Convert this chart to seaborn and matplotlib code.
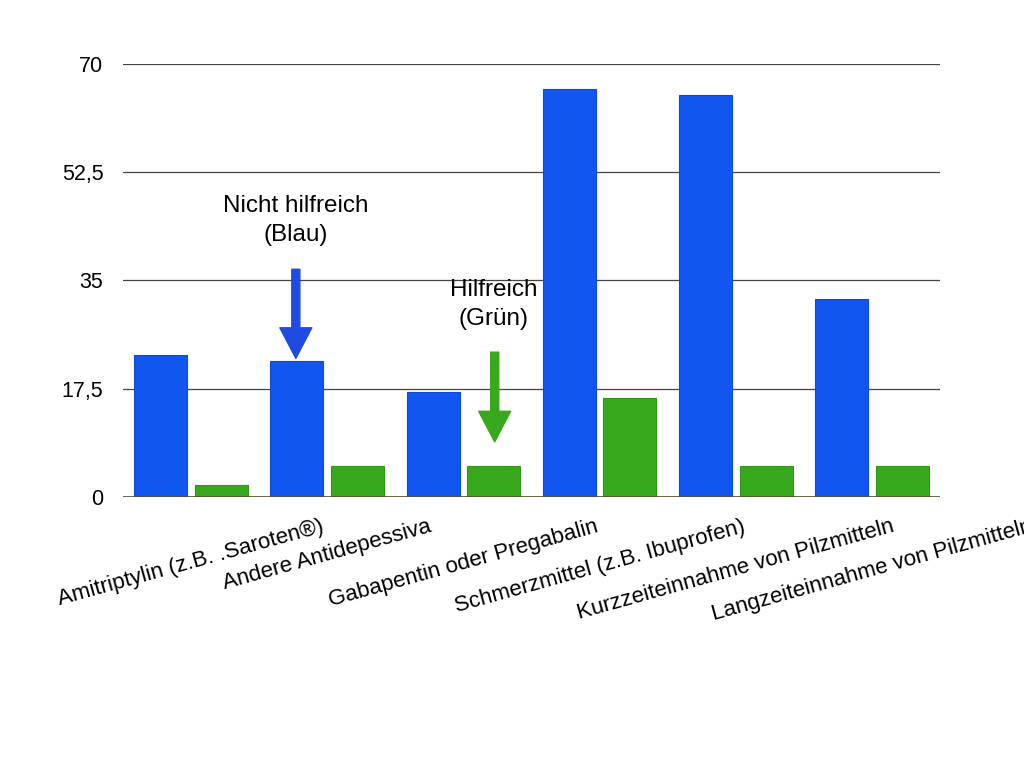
import pandas as pd
import matplotlib.pyplot as plt
import seaborn as sns

categories = [
    "Amitriptylin (z.B. .Saroten®)",
    "Andere Antidepessiva",
    "Gabapentin oder Pregabalin",
    "Schmerzmittel (z.B. Ibuprofen)",
    "Kurzzeiteinnahme von Pilzmitteln",
    "Langzeiteinnahme von Pilzmitteln",
]
nicht_hilfreich = [23, 22, 17, 66, 65, 32]
hilfreich = [2, 5, 5, 16, 5, 5]
series_names = ["Nicht hilfreich", "Hilfreich"]
y_ticks = [0, 17.5, 35, 52.5, 70]
y_tick_labels = ["0", "17,5", "35", "52,5", "70"]

BLUE = "#1156EE"
GREEN = "#38A81C"


def build_frame():
    df = pd.DataFrame({
        "Kategorie": categories * 2,
        "Gruppe": [series_names[0]] * len(categories) + [series_names[1]] * len(categories),
        "Wert": nicht_hilfreich + hilfreich,
    })
    return df


def draw(df):
    sns.set_theme(style="white")
    plt.rcParams["font.family"] = ["Liberation Sans", "DejaVu Sans"]
    plt.rcParams["text.color"] = "black"
    plt.rcParams["xtick.color"] = "black"
    plt.rcParams["ytick.color"] = "black"

    fig = plt.figure(figsize=(10.24, 7.68), dpi=100)
    ax = fig.add_axes([0.120, 0.353, 0.798, 0.5637])

    sns.barplot(
        data=df, x="Kategorie", y="Wert", hue="Gruppe",
        palette=[BLUE, GREEN], saturation=1, width=0.89, gap=0.124,
        legend=False, ax=ax, zorder=3,
    )
    for patch, edge in zip(ax.patches, ["#0d4bd6"] * 6 + ["#2f9816"] * 6):
        patch.set_edgecolor(edge)
        patch.set_linewidth(0.8)

    ax.set_xlim(-0.5, 5.5)
    ax.set_ylim(0, 70)
    ax.set_yticks(y_ticks)
    ax.set_yticklabels(y_tick_labels, fontsize=15.5)
    ax.tick_params(axis="y", length=0, pad=14)
    ax.tick_params(axis="x", length=0, pad=14)
    ax.set_xticks(range(len(categories)))
    ax.set_xticklabels(categories, rotation=15.5, ha="center", fontsize=16)
    ax.set_xlabel("")
    ax.set_ylabel("")

    for y in y_ticks[1:]:
        ax.axhline(y, color="#444444", lw=0.9, zorder=1)
    ax.axhline(0, color="#5a4a30", lw=1.2, zorder=4)

    for s in ax.spines.values():
        s.set_visible(False)

    # annotation arrows
    ax.annotate(
        "", xy=(0.77, 22.4), xytext=(0.77, 36.8),
        arrowprops=dict(arrowstyle="simple,head_length=1.1,head_width=1.15,tail_width=0.29",
                        color="#1f4be0", mutation_scale=20, shrinkA=0, shrinkB=0),
        zorder=5,
    )
    ax.text(0.77, 44.7, "Nicht hilfreich\n(Blau)", ha="center", va="center",
            fontsize=17.5, linespacing=1.45, zorder=5)

    ax.annotate(
        "", xy=(2.23, 8.9), xytext=(2.23, 23.4),
        arrowprops=dict(arrowstyle="simple,head_length=1.1,head_width=1.15,tail_width=0.29",
                        color="#38A81C", mutation_scale=20, shrinkA=0, shrinkB=0),
        zorder=5,
    )
    ax.text(2.22, 31.1, "Hilfreich\n(Grün)", ha="center", va="center",
            fontsize=17.5, linespacing=1.45, zorder=5)

    fig.savefig("out.png", dpi=100)
    plt.close(fig)


if __name__ == "__main__":
    draw(build_frame())
